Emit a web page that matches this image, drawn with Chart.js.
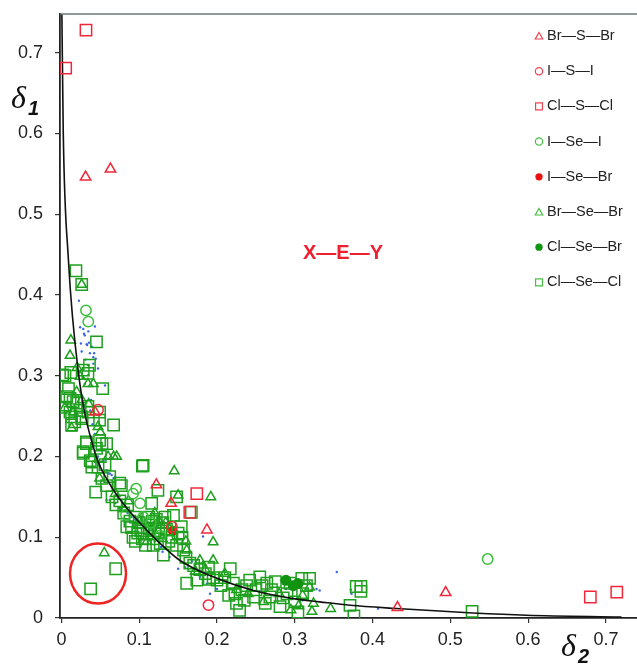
<!DOCTYPE html>
<html>
<head>
<meta charset="utf-8">
<script src="https://cdn.jsdelivr.net/npm/chart.js@4/dist/chart.umd.min.js"></script>
<style>
  html, body { margin: 0; padding: 0; background: #fff; }
  #c { display: block; }
</style>
</head>
<body>
<canvas id="c" width="637" height="664"></canvas>
<script>
// ---------------- DATA ----------------
// Each pair is [delta2, delta1]
const brSBr = [[0.031,0.546],[0.063,0.556],[0.043,0.255],[0.122,0.165],[0.141,0.142],[0.187,0.109],[0.432,0.013],[0.494,0.0315]];
const iSI   = [[0.047,0.258],[0.189,0.016],[0.142,0.113]];
const clSCl = [[0.0315,0.728],[0.0054,0.681],[0.174,0.154],[0.165,0.131],[0.680,0.026],[0.714,0.032]];
const iSeI  = [[0.0315,0.381],[0.0345,0.367],[0.548,0.073],[0.096,0.160],[0.101,0.142],[0.092,0.154],[0.105,0.125],[0.115,0.118],[0.083,0.128],[0.127,0.102]];
const iSeBr = [[0.143,0.108]];
const brSeBr = [[0.012,0.344],[0.011,0.325],[0.026,0.413],[0.024,0.299],[0.034,0.29],[0.0195,0.28],[0.013,0.235],[0.047,0.237],[0.067,0.2],[0.071,0.2],[0.049,0.173],[0.069,0.154],[0.145,0.182],[0.192,0.15],[0.195,0.094],[0.161,0.084],[0.178,0.0715],[0.195,0.0715],[0.319,0.038],[0.324,0.018],[0.322,0.008],[0.346,0.0116],[0.150,0.152],[0.055,0.0805],[0.015,0.255],[0.035,0.265],[0.05,0.23],[0.08,0.135],[0.086,0.145],[0.11,0.095],[0.12,0.13],[0.134,0.118],[0.16,0.095],[0.172,0.058],[0.185,0.06],[0.21,0.055],[0.225,0.035],[0.24,0.03],[0.26,0.02],[0.28,0.03],[0.295,0.01],[0.305,0.015],[0.31,0.028],[0.004,0.26],[0.02,0.31],[0.041,0.29],[0.06,0.2],[0.026,0.27],[0.1,0.12],[0.115,0.105],[0.125,0.12],[0.13,0.098]];
const clSeBr = [[0.2886,0.0467],[0.304,0.0426],[0.298,0.040]];
const clSeCl = [[0.0186,0.43],[0.026,0.413],[0.045,0.342],[0.036,0.313],[0.0015,0.301],[0.012,0.304],[0.028,0.307],[0.009,0.284],[0.053,0.284],[0.0067,0.274],[0.015,0.268],[0.0045,0.261],[0.024,0.257],[0.034,0.255],[0.049,0.255],[0.067,0.239],[0.013,0.249],[0.026,0.247],[0.041,0.245],[0.013,0.239],[0.032,0.216],[0.028,0.204],[0.037,0.195],[0.049,0.22],[0.058,0.216],[0.039,0.187],[0.105,0.189],[0.044,0.156],[0.077,0.164],[0.124,0.158],[0.116,0.142],[0.148,0.15],[0.084,0.113],[0.092,0.1],[0.118,0.09],[0.131,0.078],[0.144,0.127],[0.154,0.113],[0.157,0.084],[0.167,0.131],[0.161,0.043],[0.174,0.047],[0.189,0.063],[0.2,0.047],[0.217,0.061],[0.221,0.043],[0.225,0.018],[0.229,0.0095],[0.242,0.047],[0.255,0.051],[0.247,0.026],[0.264,0.043],[0.268,0.026],[0.281,0.014],[0.294,0.043],[0.304,0.0074],[0.319,0.049],[0.309,0.049],[0.371,0.0157],[0.376,0.0025],[0.379,0.039],[0.385,0.039],[0.385,0.033],[0.528,0.0083],[0.0375,0.036],[0.0697,0.061],
  [0.0045,0.3],[0.034,0.303],[0.011,0.272],[0.0195,0.266],[0.011,0.255],[0.017,0.243],[0.026,0.249],[0.034,0.262],[0.049,0.245],[0.032,0.218],[0.052,0.216],[0.028,0.206],[0.039,0.193],[0.047,0.187],[0.052,0.173],[0.075,0.167],[0.104,0.188],[0.058,0.164],
  [0.095,0.125],[0.1,0.118],[0.105,0.112],[0.11,0.105],[0.115,0.115],[0.12,0.108],[0.125,0.112],[0.13,0.118],[0.098,0.105],[0.104,0.098],[0.108,0.09],[0.112,0.125],[0.118,0.098],[0.122,0.122],[0.128,0.105],[0.135,0.11],[0.138,0.095],[0.142,0.1],[0.09,0.112],[0.095,0.095],[0.102,0.108],[0.113,0.11],[0.117,0.12],[0.127,0.092],[0.133,0.125],[0.088,0.12],[0.148,0.09],[0.15,0.105],[0.155,0.1],[0.16,0.075],[0.165,0.068],[0.17,0.065],[0.178,0.06],[0.185,0.055],[0.19,0.048],[0.195,0.05],[0.205,0.04],[0.21,0.05],[0.215,0.028],[0.223,0.03],[0.232,0.035],[0.235,0.022],[0.238,0.04],[0.25,0.035],[0.258,0.04],[0.262,0.018],[0.27,0.035],[0.275,0.045],[0.285,0.025],[0.29,0.03],[0.3,0.02],[0.31,0.03],[0.315,0.04],
  [0.065,0.15],[0.07,0.14],[0.075,0.145],[0.08,0.13],[0.085,0.14],[0.062,0.175],[0.056,0.19],[0.05,0.2],[0.045,0.21]];
const blueDots = [[0.0225,0.393],[0.028,0.358],[0.0345,0.355],[0.043,0.361],[0.029,0.352],[0.0324,0.339],[0.0353,0.341],[0.0366,0.328],[0.0409,0.323],[0.044,0.321],[0.047,0.309],[0.0345,0.313],[0.030,0.350],[0.033,0.338],[0.039,0.336],[0.042,0.328],[0.041,0.315],[0.037,0.257],[0.058,0.183],[0.062,0.179],[0.069,0.175],[0.058,0.146],[0.062,0.146],[0.069,0.142],[0.075,0.136],[0.139,0.0756],[0.150,0.061],[0.159,0.0625],[0.178,0.051],[0.187,0.0426],[0.191,0.030],[0.2,0.036],[0.229,0.038],[0.289,0.036],[0.328,0.036],[0.0345,0.301],[0.056,0.288],[0.041,0.212],[0.047,0.2],[0.054,0.195],[0.049,0.189],[0.060,0.179],[0.0645,0.177],[0.067,0.173],[0.085,0.13],[0.09,0.125],[0.095,0.122],[0.12,0.095],[0.128,0.088],[0.13,0.082],[0.168,0.07],[0.172,0.062],[0.182,0.101],[0.354,0.057],[0.332,0.034],[0.407,0.0116],[0.372,0.035],[0.373,0.03],[0.255,0.033],[0.27,0.028],[0.31,0.022],[0.024,0.36],[0.026,0.33],[0.031,0.32],[0.03,0.29],[0.025,0.34],[0.038,0.27],[0.04,0.24],[0.043,0.228]];
// black reference curve
const curveX = [0.0005,0.0023,0.0087,0.0216,0.043,0.062,0.079,0.1095,0.152,0.195,0.247,0.298,0.332,0.371,0.431,0.529,0.598,0.72];
const curveY = [0.75,0.60,0.447,0.305,0.205,0.166,0.142,0.109,0.0715,0.051,0.034,0.024,0.020,0.0157,0.0117,0.0062,0.0034,0.0012];
const xTicks = [0,0.1,0.2,0.3,0.4,0.5,0.6,0.7];
const yTicks = [0,0.1,0.2,0.3,0.4,0.5,0.6,0.7];
const legendLabels = ['Br\u2014S\u2014Br','I\u2014S\u2014I','Cl\u2014S\u2014Cl','I\u2014Se\u2014I','I\u2014Se\u2014Br','Br\u2014Se\u2014Br','Cl\u2014Se\u2014Br','Cl\u2014Se\u2014Cl'];
const annotCenter = [0.047, 0.055];
const innerLabel = 'X\u2014E\u2014Y';

// ---------------- STYLES ----------------
const RED = '#f0283a', GREEN = '#1ea01e', GREEN_L = '#3cbf3c', BLUE = '#3a66dd';
const toXY = arr => arr.map(p => ({x: p[0], y: p[1]}));

const scatterDs = (label, data, style, color, r, filled, order) => ({
  type: 'scatter', label, data: toXY(data), order,
  pointStyle: style, pointRadius: r, pointHoverRadius: r,
  pointBorderColor: color, pointBackgroundColor: filled ? color : 'rgba(0,0,0,0)',
  pointBorderWidth: filled ? 0 : 1.5
});

const datasets = [
  scatterDs('dots', blueDots, 'circle', BLUE, 1.2, true, 20),
  scatterDs(legendLabels[4], iSeBr, 'circle', '#ee1111', 5, true, 15),
  scatterDs(legendLabels[7], clSeCl, 'rect', GREEN, 8, false, 12),
  scatterDs(legendLabels[5], brSeBr, 'triangle', GREEN, 5.5, false, 11),
  scatterDs(legendLabels[3], iSeI, 'circle', GREEN_L, 5.2, false, 10),
  scatterDs(legendLabels[6], clSeBr, 'circle', '#119211', 5.5, true, 9),
  {
    type: 'line', label: 'curve', order: 8,
    data: curveX.map((x, i) => ({x, y: curveY[i]})),
    borderColor: '#111', borderWidth: 1.6, pointRadius: 0, fill: false,
    cubicInterpolationMode: 'monotone', clip: true
  },
  scatterDs(legendLabels[2], clSCl, 'rect', RED, 8, false, 4),
  scatterDs(legendLabels[1], iSI, 'circle', RED, 5.2, false, 3),
  scatterDs(legendLabels[0], brSBr, 'triangle', RED, 6, false, 2)
];

const legendStyles = [
  {s:'triangle', c:'#f04050', f:false},
  {s:'circle', c:'#f04050', f:false},
  {s:'rect', c:'#f04050', f:false},
  {s:'circle', c:'#44c044', f:false},
  {s:'circle', c:'#ee1111', f:true},
  {s:'triangle', c:'#44c044', f:false},
  {s:'circle', c:'#0f960f', f:true},
  {s:'rect', c:'#44c044', f:false}
];

function marker(ctx, s, x, y, r, color, filled) {
  ctx.beginPath();
  if (s === 'triangle') {
    for (let k = 0; k < 3; k++) {
      const a = -Math.PI / 2 + k * 2 * Math.PI / 3;
      const px = x + r * Math.cos(a), py = y + r * Math.sin(a) + r * 0.2;
      k === 0 ? ctx.moveTo(px, py) : ctx.lineTo(px, py);
    }
    ctx.closePath();
  } else if (s === 'rect') {
    ctx.rect(x - r * 0.8, y - r * 0.8, r * 1.6, r * 1.6);
  } else {
    ctx.arc(x, y, r * 0.85, 0, Math.PI * 2);
  }
  if (filled) { ctx.fillStyle = color; ctx.fill(); }
  else { ctx.strokeStyle = color; ctx.lineWidth = 1.2; ctx.stroke(); }
}

const extras = {
  id: 'extras',
  afterDraw(chart) {
    const {ctx, chartArea: ca, scales: {x, y}} = chart;
    ctx.save();
    // top frame line
    ctx.strokeStyle = '#6c7878'; ctx.lineWidth = 1.5;
    ctx.beginPath(); ctx.moveTo(ca.left, ca.top); ctx.lineTo(ca.right, ca.top); ctx.stroke();
    // highlight circle
    ctx.strokeStyle = '#ee2424'; ctx.lineWidth = 2.5;
    ctx.beginPath();
    ctx.ellipse(x.getPixelForValue(annotCenter[0]), y.getPixelForValue(annotCenter[1]), 28, 30, 0, 0, Math.PI * 2);
    ctx.stroke();
    // inner label
    ctx.fillStyle = '#ee2030';
    ctx.font = 'bold 20px "Liberation Sans", Arial, sans-serif';
    ctx.textAlign = 'center'; ctx.textBaseline = 'middle';
    ctx.fillText(innerLabel, 343, 253);
    // legend
    ctx.font = '14.5px "Liberation Sans", Arial, sans-serif';
    ctx.textAlign = 'left'; ctx.textBaseline = 'middle';
    legendLabels.forEach((lab, i) => {
      const yy = 36 + i * 35.2;
      const st = legendStyles[i];
      marker(ctx, st.s, 539, yy, 4.3, st.c, st.f);
      ctx.fillStyle = '#222';
      ctx.fillText(lab, 547, yy);
    });
    // axis titles
    ctx.fillStyle = '#111';
    ctx.textAlign = 'left'; ctx.textBaseline = 'alphabetic';
    ctx.font = 'italic 32px "Liberation Serif", "DejaVu Serif", serif';
    ctx.fillText('\u03b4', 11, 108);
    ctx.font = 'bold italic 20px "Liberation Sans", Arial, sans-serif';
    ctx.fillText('1', 28, 115);
    ctx.font = 'italic 32px "Liberation Serif", "DejaVu Serif", serif';
    ctx.fillText('\u03b4', 561, 656);
    ctx.font = 'bold italic 20px "Liberation Sans", Arial, sans-serif';
    ctx.fillText('2', 578, 663);
    ctx.restore();
  }
};

const tickFmt = v => {
  const r = Math.round(v * 10) / 10;
  return r === 0 ? '0' : r.toFixed(1);
};

new Chart(document.getElementById('c'), {
  type: 'scatter',
  data: { datasets },
  options: {
    responsive: false, animation: false, devicePixelRatio: 1,
    layout: { autoPadding: false, padding: { top: 14, left: 0, right: 0, bottom: 0 } },
    plugins: { legend: { display: false }, tooltip: { enabled: false } },
    scales: {
      x: {
        type: 'linear', min: -0.0019, max: 0.74,
        afterFit: s => { s.height = 46; s.paddingLeft = 0; s.paddingRight = 0; },
        afterBuildTicks: s => { s.ticks = xTicks.map(v => ({value: v})); },
        ticks: { stepSize: 0.1, includeBounds: false, callback: tickFmt, color: '#222', padding: 6, maxRotation: 0,
                 font: { family: '"Liberation Sans", Arial, sans-serif', size: 18 } },
        grid: { display: true, drawOnChartArea: false, drawTicks: true, tickLength: 5, color: '#333', lineWidth: 1.2 },
        border: { display: true, color: '#222', width: 1.8 }
      },
      y: {
        type: 'linear', min: 0, max: 0.748,
        afterFit: s => { s.width = 60; s.paddingTop = 0; s.paddingBottom = 0; },
        afterBuildTicks: s => { s.ticks = yTicks.map(v => ({value: v})); },
        ticks: { stepSize: 0.1, includeBounds: false, callback: tickFmt, color: '#222', padding: 12,
                 font: { family: '"Liberation Sans", Arial, sans-serif', size: 18 } },
        grid: { display: true, drawOnChartArea: false, drawTicks: true, tickLength: 5, color: '#333', lineWidth: 1.2 },
        border: { display: true, color: '#222', width: 1.8 }
      }
    }
  },
  plugins: [extras]
});
</script>
</body>
</html>
